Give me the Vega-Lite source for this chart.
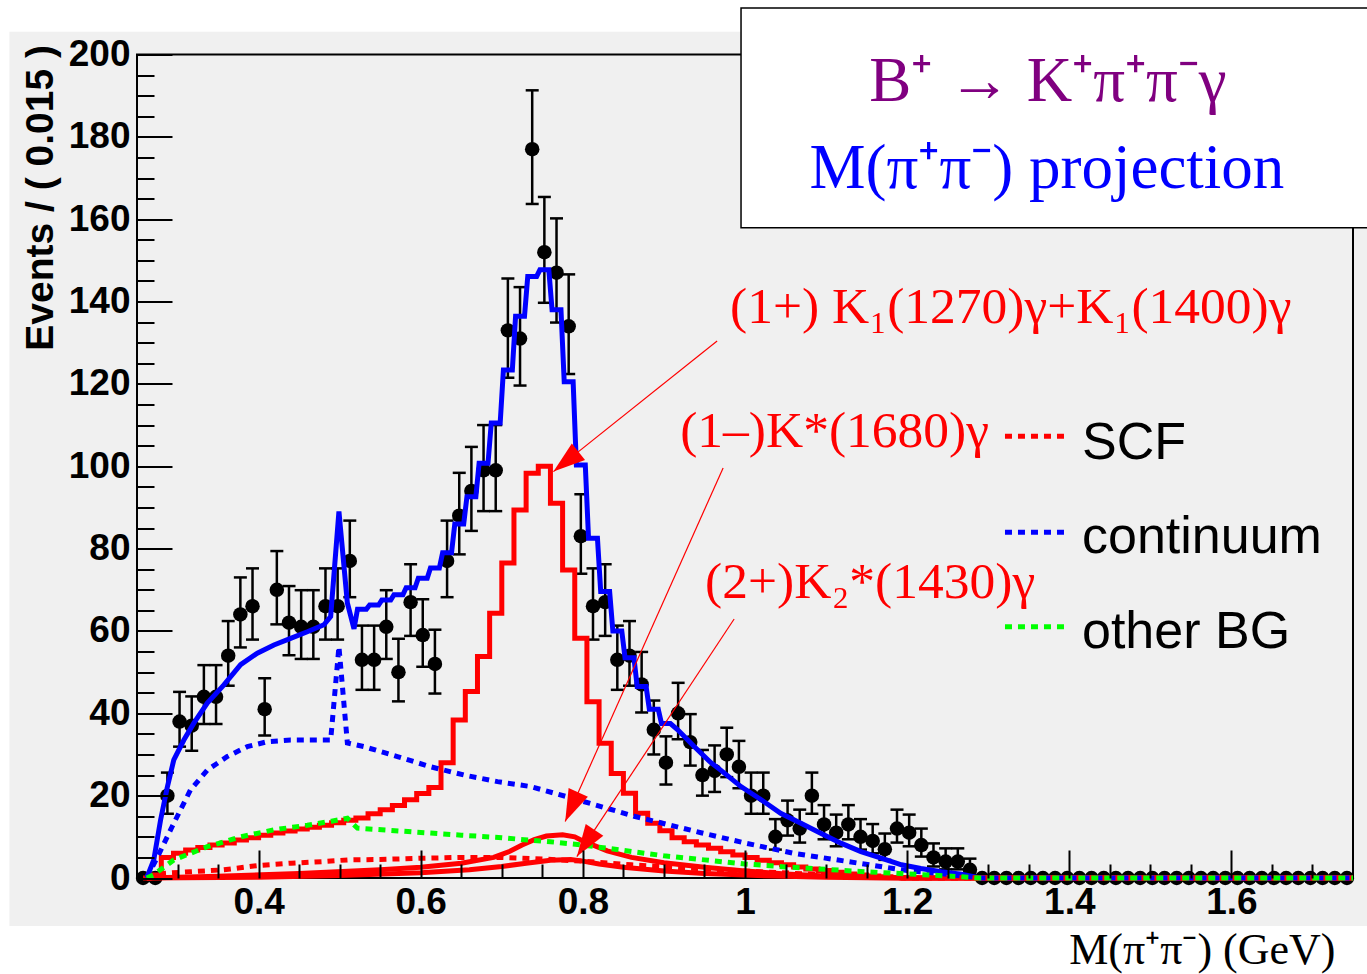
{
  "$schema": "https://vega.github.io/schema/vega-lite/v6.json",
  "width": 1216,
  "height": 823.5,
  "autosize": "none",
  "padding": {"left": 137, "top": 54.5, "right": 14, "bottom": 96},
  "background": "white",
  "config": {"view": {"stroke": null}, "axis": {"zindex": 1, "grid": false, "domain": false}},
  "resolve": {"axis": {"x": "independent", "y": "independent"}},
  "datasets": {
    "pts": [
      {"x":0.2575,"y":0,"lo":0,"hi":0},{"x":0.2725,"y":0,"lo":0,"hi":0},
      {"x":0.2875,"y":20,"lo":15.6,"hi":25.6},{"x":0.3025,"y":38,"lo":31.9,"hi":45.2},
      {"x":0.3175,"y":37,"lo":30.9,"hi":44.1},{"x":0.3325,"y":44,"lo":37.4,"hi":51.7},
      {"x":0.3475,"y":44,"lo":37.4,"hi":51.7},{"x":0.3625,"y":54,"lo":46.7,"hi":62.4},
      {"x":0.3775,"y":64,"lo":56.0,"hi":73.0},{"x":0.3925,"y":66,"lo":57.9,"hi":75.2},
      {"x":0.4075,"y":41,"lo":34.6,"hi":48.5},{"x":0.4225,"y":70,"lo":61.6,"hi":79.4},
      {"x":0.4375,"y":62,"lo":54.1,"hi":70.9},{"x":0.4525,"y":61,"lo":53.2,"hi":69.9},
      {"x":0.4675,"y":61,"lo":53.2,"hi":69.9},{"x":0.4825,"y":66,"lo":57.9,"hi":75.2},
      {"x":0.4975,"y":66,"lo":57.9,"hi":75.2},{"x":0.5125,"y":77,"lo":68.2,"hi":86.8},
      {"x":0.5275,"y":53,"lo":45.7,"hi":61.3},{"x":0.5425,"y":53,"lo":45.7,"hi":61.3},
      {"x":0.5575,"y":61,"lo":53.2,"hi":69.9},{"x":0.5725,"y":50,"lo":42.9,"hi":58.1},
      {"x":0.5875,"y":67,"lo":58.8,"hi":76.2},{"x":0.6025,"y":59,"lo":51.3,"hi":67.7},
      {"x":0.6175,"y":52,"lo":44.8,"hi":60.3},{"x":0.6325,"y":77,"lo":68.2,"hi":86.8},
      {"x":0.6475,"y":88,"lo":78.6,"hi":98.4},{"x":0.6625,"y":94,"lo":84.3,"hi":104.7},
      {"x":0.6775,"y":99,"lo":89.1,"hi":110.0},{"x":0.6925,"y":99,"lo":89.1,"hi":110.0},
      {"x":0.7075,"y":133,"lo":121.5,"hi":145.6},{"x":0.7225,"y":131,"lo":119.6,"hi":143.5},
      {"x":0.7375,"y":177,"lo":163.7,"hi":191.3},{"x":0.7525,"y":152,"lo":139.7,"hi":165.4},
      {"x":0.7675,"y":147,"lo":134.9,"hi":160.2},{"x":0.7825,"y":134,"lo":122.4,"hi":146.6},
      {"x":0.7975,"y":83,"lo":73.9,"hi":93.2},{"x":0.8125,"y":66,"lo":57.9,"hi":75.2},
      {"x":0.8275,"y":67,"lo":58.8,"hi":76.2},{"x":0.8425,"y":53,"lo":45.7,"hi":61.3},
      {"x":0.8575,"y":54,"lo":46.7,"hi":62.4},{"x":0.8725,"y":47,"lo":40.2,"hi":54.9},
      {"x":0.8875,"y":36,"lo":30.0,"hi":43.1},{"x":0.9025,"y":28,"lo":22.7,"hi":34.4},
      {"x":0.9175,"y":40,"lo":33.7,"hi":47.4},{"x":0.9325,"y":33,"lo":27.3,"hi":39.8},
      {"x":0.9475,"y":25,"lo":20.0,"hi":31.1},{"x":0.9625,"y":26,"lo":20.9,"hi":32.2},
      {"x":0.9775,"y":30,"lo":24.5,"hi":36.5},{"x":0.9925,"y":27,"lo":21.8,"hi":33.3},
      {"x":1.0075,"y":20,"lo":15.6,"hi":25.6},{"x":1.0225,"y":20,"lo":15.6,"hi":25.6},
      {"x":1.0375,"y":10,"lo":6.9,"hi":14.3},{"x":1.0525,"y":14,"lo":10.3,"hi":18.8},
      {"x":1.0675,"y":12,"lo":8.6,"hi":16.6},{"x":1.0825,"y":20,"lo":15.6,"hi":25.6},
      {"x":1.0975,"y":13,"lo":9.4,"hi":17.7},{"x":1.1125,"y":11,"lo":7.7,"hi":15.4},
      {"x":1.1275,"y":13,"lo":9.4,"hi":17.7},{"x":1.1425,"y":10,"lo":6.9,"hi":14.3},
      {"x":1.1575,"y":9,"lo":6.0,"hi":13.1},{"x":1.1725,"y":7,"lo":4.4,"hi":10.8},
      {"x":1.1875,"y":12,"lo":8.6,"hi":16.6},{"x":1.2025,"y":11,"lo":7.7,"hi":15.4},
      {"x":1.2175,"y":8,"lo":5.2,"hi":12.0},{"x":1.2325,"y":5,"lo":2.8,"hi":8.4},
      {"x":1.2475,"y":4,"lo":2.1,"hi":7.2},{"x":1.2625,"y":4,"lo":2.1,"hi":7.2},
      {"x":1.2775,"y":2,"lo":0.7,"hi":4.7},
      {"x":1.2925,"y":0,"lo":0,"hi":0},{"x":1.3075,"y":0,"lo":0,"hi":0},{"x":1.3225,"y":0,"lo":0,"hi":0},
      {"x":1.3375,"y":0,"lo":0,"hi":0},{"x":1.3525,"y":0,"lo":0,"hi":0},{"x":1.3675,"y":0,"lo":0,"hi":0},
      {"x":1.3825,"y":0,"lo":0,"hi":0},{"x":1.3975,"y":0,"lo":0,"hi":0},{"x":1.4125,"y":0,"lo":0,"hi":0},
      {"x":1.4275,"y":0,"lo":0,"hi":0},{"x":1.4425,"y":0,"lo":0,"hi":0},{"x":1.4575,"y":0,"lo":0,"hi":0},
      {"x":1.4725,"y":0,"lo":0,"hi":0},{"x":1.4875,"y":0,"lo":0,"hi":0},{"x":1.5025,"y":0,"lo":0,"hi":0},
      {"x":1.5175,"y":0,"lo":0,"hi":0},{"x":1.5325,"y":0,"lo":0,"hi":0},{"x":1.5475,"y":0,"lo":0,"hi":0},
      {"x":1.5625,"y":0,"lo":0,"hi":0},{"x":1.5775,"y":0,"lo":0,"hi":0},{"x":1.5925,"y":0,"lo":0,"hi":0},
      {"x":1.6075,"y":0,"lo":0,"hi":0},{"x":1.6225,"y":0,"lo":0,"hi":0},{"x":1.6375,"y":0,"lo":0,"hi":0},
      {"x":1.6525,"y":0,"lo":0,"hi":0},{"x":1.6675,"y":0,"lo":0,"hi":0},{"x":1.6825,"y":0,"lo":0,"hi":0},
      {"x":1.6975,"y":0,"lo":0,"hi":0},{"x":1.7125,"y":0,"lo":0,"hi":0},{"x":1.7275,"y":0,"lo":0,"hi":0},
      {"x":1.7425,"y":0,"lo":0,"hi":0}
    ],
    "tot": [
      {"x":0.262,"y":0},{"x":0.2707,"y":4.4},{"x":0.279,"y":14},{"x":0.2873,"y":22},{"x":0.2954,"y":28.7},
      {"x":0.3078,"y":33.5},{"x":0.3201,"y":37.6},{"x":0.3367,"y":42.5},{"x":0.3572,"y":46.9},{"x":0.3778,"y":51.8},
      {"x":0.3984,"y":54.6},{"x":0.4189,"y":56.6},{"x":0.4395,"y":58.2},{"x":0.4601,"y":59.8},{"x":0.4806,"y":61.5},
      {"x":0.4889,"y":63.5},{"x":0.4991,"y":89},{"x":0.5095,"y":66.8},{"x":0.5177,"y":60.5},
      {"x":0.522,"y":65.3},{"x":0.533,"y":65.3},{"x":0.537,"y":66.3},{"x":0.548,"y":66.3},
      {"x":0.552,"y":67.5},{"x":0.563,"y":67.5},{"x":0.567,"y":68.8},{"x":0.578,"y":68.8},
      {"x":0.582,"y":70.5},{"x":0.593,"y":70.5},{"x":0.597,"y":72.8},{"x":0.608,"y":72.8},
      {"x":0.612,"y":75.3},{"x":0.623,"y":75.3},{"x":0.627,"y":79},{"x":0.638,"y":79},
      {"x":0.642,"y":86},{"x":0.653,"y":86},{"x":0.657,"y":92.6},{"x":0.668,"y":92.6},
      {"x":0.672,"y":100.7},{"x":0.683,"y":100.7},{"x":0.687,"y":110.5},{"x":0.698,"y":110.5},
      {"x":0.702,"y":123.4},{"x":0.713,"y":123.4},{"x":0.717,"y":136.4},{"x":0.728,"y":136.4},
      {"x":0.732,"y":146.1},{"x":0.743,"y":146.1},{"x":0.747,"y":147.7},{"x":0.758,"y":147.7},
      {"x":0.762,"y":138},{"x":0.773,"y":138},{"x":0.777,"y":120.5},{"x":0.788,"y":120.5},
      {"x":0.792,"y":100.3},{"x":0.803,"y":100.3},{"x":0.807,"y":82.5},{"x":0.818,"y":82.5},
      {"x":0.822,"y":69.6},{"x":0.833,"y":69.6},{"x":0.837,"y":60},{"x":0.848,"y":60},
      {"x":0.852,"y":53.5},{"x":0.863,"y":53.5},{"x":0.867,"y":46.5},{"x":0.878,"y":46.5},
      {"x":0.882,"y":41},{"x":0.893,"y":41},{"x":0.897,"y":37.5},{"x":0.908,"y":37.5},
      {"x":0.917,"y":36},{"x":0.937,"y":32},{"x":0.958,"y":28},{"x":0.97,"y":26.2},{"x":0.995,"y":22.2},
      {"x":1.02,"y":19},{"x":1.044,"y":15.7},{"x":1.069,"y":13.3},{"x":1.094,"y":10.8},{"x":1.119,"y":8.4},
      {"x":1.143,"y":6.4},{"x":1.168,"y":4.8},{"x":1.193,"y":3.2},{"x":1.217,"y":2.3},{"x":1.242,"y":1.5},
      {"x":1.267,"y":0.9},{"x":1.29,"y":0},{"x":1.75,"y":0}
    ],
    "k1": [
      {"x":0.2575,"y":0},{"x":0.2725,"y":0.7},{"x":0.2875,"y":5.0},{"x":0.3025,"y":6.0},{"x":0.3175,"y":6.8},
      {"x":0.3325,"y":7.4},{"x":0.3475,"y":8.0},{"x":0.3625,"y":8.5},{"x":0.3775,"y":9.2},{"x":0.3925,"y":9.8},
      {"x":0.4075,"y":10.4},{"x":0.4225,"y":10.9},{"x":0.4375,"y":11.4},{"x":0.4525,"y":11.9},{"x":0.4675,"y":12.3},
      {"x":0.4825,"y":12.8},{"x":0.4975,"y":13.4},{"x":0.5125,"y":14.0},{"x":0.5275,"y":14.6},{"x":0.5425,"y":15.6},
      {"x":0.5575,"y":16.6},{"x":0.5725,"y":17.6},{"x":0.5875,"y":19.0},{"x":0.6025,"y":20.5},{"x":0.6175,"y":22.0},
      {"x":0.6325,"y":28.0},{"x":0.6475,"y":38.4},{"x":0.6625,"y":45.3},{"x":0.6775,"y":53.8},{"x":0.6925,"y":64.3},
      {"x":0.7075,"y":76.5},{"x":0.7225,"y":89.4},{"x":0.7375,"y":98.3},{"x":0.7525,"y":100},{"x":0.7675,"y":91},
      {"x":0.7825,"y":74.8},{"x":0.7975,"y":58.2},{"x":0.8125,"y":42.8},{"x":0.8275,"y":32.7},{"x":0.8425,"y":25.4},
      {"x":0.8575,"y":20.6},{"x":0.8725,"y":15.7},{"x":0.8875,"y":13.3},{"x":0.9025,"y":11.5},{"x":0.9175,"y":9.8},
      {"x":0.9325,"y":8.8},{"x":0.9475,"y":8.0},{"x":0.9625,"y":7.2},{"x":0.9775,"y":6.4},{"x":0.9925,"y":5.6},
      {"x":1.0075,"y":5.0},{"x":1.0225,"y":4.3},{"x":1.0375,"y":3.7},{"x":1.0525,"y":3.2},{"x":1.0675,"y":2.7},
      {"x":1.0825,"y":2.2},{"x":1.0975,"y":1.8},{"x":1.1125,"y":1.4},{"x":1.1275,"y":1.0},{"x":1.1425,"y":0.7},
      {"x":1.1575,"y":0.5},{"x":1.1725,"y":0.3},{"x":1.1875,"y":0.1},{"x":1.2025,"y":0},{"x":1.7425,"y":0}
    ],
    "ks": [
      {"x":0.262,"y":0},{"x":0.35,"y":0.4},{"x":0.45,"y":1.1},{"x":0.55,"y":2.0},{"x":0.6,"y":2.6},
      {"x":0.65,"y":3.6},{"x":0.69,"y":5.0},{"x":0.71,"y":6.5},{"x":0.725,"y":8.0},{"x":0.74,"y":9.3},
      {"x":0.755,"y":10.2},{"x":0.775,"y":10.5},{"x":0.79,"y":10.0},{"x":0.8,"y":9.0},{"x":0.815,"y":7.8},
      {"x":0.83,"y":6.6},{"x":0.86,"y":5.0},{"x":0.9,"y":3.7},{"x":0.95,"y":2.6},{"x":1.0,"y":1.7},
      {"x":1.05,"y":1.0},{"x":1.1,"y":0.5},{"x":1.15,"y":0.15},{"x":1.2,"y":0},{"x":1.75,"y":0}
    ],
    "k2": [
      {"x":0.262,"y":0},{"x":0.4,"y":0.2},{"x":0.5,"y":0.6},{"x":0.6,"y":1.3},{"x":0.66,"y":2.0},
      {"x":0.7,"y":2.8},{"x":0.73,"y":3.6},{"x":0.76,"y":4.3},{"x":0.785,"y":4.5},{"x":0.8,"y":4.1},
      {"x":0.82,"y":3.4},{"x":0.85,"y":2.6},{"x":0.9,"y":1.7},{"x":0.95,"y":1.1},{"x":1.0,"y":0.7},
      {"x":1.05,"y":0.4},{"x":1.1,"y":0.2},{"x":1.15,"y":0.05},{"x":1.2,"y":0},{"x":1.75,"y":0}
    ],
    "scf": [
      {"x":0.262,"y":0},{"x":0.279,"y":1.1},{"x":0.3152,"y":1.5},{"x":0.3572,"y":2.0},{"x":0.3984,"y":3.0},
      {"x":0.44,"y":3.6},{"x":0.48,"y":4.0},{"x":0.51,"y":4.4},{"x":0.55,"y":4.5},{"x":0.6,"y":4.8},
      {"x":0.65,"y":5.0},{"x":0.7,"y":5.0},{"x":0.75,"y":4.6},{"x":0.8,"y":4.1},{"x":0.86,"y":3.2},
      {"x":0.95,"y":2.2},{"x":1.03,"y":1.4},{"x":1.11,"y":0.7},{"x":1.17,"y":0.2},{"x":1.2,"y":0},{"x":1.75,"y":0}
    ],
    "cont": [
      {"x":0.262,"y":0},{"x":0.275,"y":5},{"x":0.2934,"y":12.5},{"x":0.316,"y":21.4},{"x":0.3367,"y":26.2},
      {"x":0.3614,"y":29.5},{"x":0.386,"y":31.9},{"x":0.4107,"y":33.1},{"x":0.4395,"y":33.5},{"x":0.4683,"y":33.5},
      {"x":0.4889,"y":33.5},{"x":0.4991,"y":56.2},{"x":0.5095,"y":32.8},{"x":0.53,"y":31.9},{"x":0.5712,"y":29.5},
      {"x":0.6123,"y":27.0},{"x":0.6535,"y":25.0},{"x":0.6947,"y":23.4},{"x":0.7358,"y":22.2},{"x":0.7811,"y":19.7},
      {"x":0.8633,"y":15},{"x":0.9457,"y":11},{"x":1.0,"y":8.5},{"x":1.06,"y":6},{"x":1.11,"y":4.5},
      {"x":1.16,"y":3},{"x":1.2,"y":1.8},{"x":1.25,"y":0.9},{"x":1.29,"y":0},{"x":1.75,"y":0}
    ],
    "obg": [
      {"x":0.262,"y":0},{"x":0.27,"y":0.7},{"x":0.2954,"y":4.4},{"x":0.3367,"y":7.6},{"x":0.3778,"y":10.0},
      {"x":0.4189,"y":11.7},{"x":0.4601,"y":12.8},{"x":0.49,"y":13.8},{"x":0.5095,"y":14.5},{"x":0.5219,"y":12.1},
      {"x":0.56,"y":11.6},{"x":0.6123,"y":10.9},{"x":0.65,"y":10.4},{"x":0.7,"y":9.8},{"x":0.7275,"y":9.3},
      {"x":0.76,"y":8.8},{"x":0.8,"y":8.0},{"x":0.85,"y":6.7},{"x":0.9,"y":5.4},{"x":0.95,"y":4.4},
      {"x":1.0,"y":3.4},{"x":1.05,"y":2.7},{"x":1.1,"y":2.1},{"x":1.15,"y":1.5},{"x":1.2,"y":1.0},
      {"x":1.25,"y":0.5},{"x":1.29,"y":0},{"x":1.75,"y":0}
    ],
    "arrows": [
      {"x":0.9656,"y":130.4,"x2":0.7637,"y2":98.7,"ang":231.4},
      {"x":0.973,"y":99.6,"x2":0.7782,"y2":13.7,"ang":204.1},
      {"x":0.9866,"y":62.9,"x2":0.7926,"y2":5.2,"ang":213.5}
    ],
    "ann": [
      {"x":0.9816,"y":134.8,"label":"(1+) K₁(1270)γ+K₁(1400)γ"},
      {"x":0.92,"y":104.7,"label":"(1–)K*(1680)γ"},
      {"x":0.9508,"y":68.0,"label":"(2+)K₂*(1430)γ"}
    ],
    "legl": [
      {"x":1.3207,"x2":1.3983,"y":107.3,"s":"SCF"},
      {"x":1.3207,"x2":1.3983,"y":84.0,"s":"continuum"},
      {"x":1.3207,"x2":1.3983,"y":61.0,"s":"other BG"}
    ],
    "legt": [
      {"x":1.4157,"y":101.8,"label":"SCF"},
      {"x":1.4157,"y":78.9,"label":"continuum"},
      {"x":1.4157,"y":55.9,"label":"other BG"}
    ]
  },
  "encoding": {
    "x": {"field": "x", "type": "quantitative", "scale": {"domain": [0.25, 1.75], "nice": false, "zero": false}, "axis": null},
    "y": {"field": "y", "type": "quantitative", "scale": {"domain": [0, 200], "nice": false, "zero": false}, "axis": null}
  },
  "layer": [
    {
      "data": {"values": [{"x": 0.0926, "x2": 1.8, "y": -11.66, "y2": 205.5}]},
      "mark": {"type": "rect", "color": "#f0f0f0"},
      "encoding": {
        "x": {"field": "x", "type": "quantitative", "scale": {"domain": [0.25, 1.75], "nice": false, "zero": false},
          "axis": {"orient": "bottom", "zindex": 2, "values": [0.4, 0.6, 0.8, 1, 1.2, 1.4, 1.6], "format": "~g", "ticks": false, "domain": false, "grid": false,
            "labelPadding": 6, "labelFont": "Liberation Sans", "labelFontWeight": "bold", "labelFontSize": 37, "labelColor": "black",
            "labelFlush": false, "labelOverlap": false, "labelBound": false,
            "title": "M(π⁺π⁻) (GeV)", "titleFont": "Liberation Serif", "titleFontSize": 44, "titleFontWeight": "normal", "titleColor": "black",
            "titleAnchor": "end", "titleAlign": "right", "titleBaseline": "alphabetic", "titleX": 1198, "titleY": 85}},
        "x2": {"field": "x2"},
        "y": {"field": "y", "type": "quantitative", "scale": {"domain": [0, 200], "nice": false, "zero": false},
          "axis": {"orient": "left", "zindex": 2, "values": [0, 20, 40, 60, 80, 100, 120, 140, 160, 180, 200], "ticks": false, "domain": false, "grid": false,
            "labelPadding": 7, "labelFont": "Liberation Sans", "labelFontWeight": "bold", "labelFontSize": 37, "labelColor": "black",
            "labelFlush": false, "labelOverlap": false, "labelBound": false,
            "title": "Events / ( 0.015 )", "titleFont": "Liberation Sans", "titleFontSize": 39, "titleFontWeight": "bold", "titleColor": "black",
            "titleAnchor": "end", "titleAlign": "right", "titleBaseline": "middle", "titleAngle": -90, "titleX": -97, "titleY": -10}},
        "y2": {"field": "y2"}
      }
    },
    {
      "data": {"values": [{"x": 0.25, "x2": 1.75, "y": 0, "y2": 200}]},
      "mark": {"type": "rect", "fillOpacity": 0, "stroke": "black", "strokeWidth": 2},
      "encoding": {
        "x": {"field": "x", "type": "quantitative", "scale": {"domain": [0.25, 1.75], "nice": false, "zero": false},
          "axis": {"orient": "bottom", "zindex": 2, "values": [0.4, 0.6, 0.8, 1, 1.2, 1.4, 1.6], "labels": false, "ticks": true, "tickSize": -28, "tickWidth": 2, "tickColor": "black", "domain": false, "grid": false, "title": null}},
        "x2": {"field": "x2"},
        "y": {"field": "y", "type": "quantitative", "scale": {"domain": [0, 200], "nice": false, "zero": false},
          "axis": {"orient": "left", "zindex": 2, "values": [0, 20, 40, 60, 80, 100, 120, 140, 160, 180, 200], "labels": false, "ticks": true, "tickSize": -35, "tickWidth": 2, "tickColor": "black", "domain": false, "grid": false, "title": null}},
        "y2": {"field": "y2"}
      }
    },
    {
      "data": {"name": "pts"},
      "transform": [{"filter": "datum.y > 0"}],
      "mark": {"type": "rule", "color": "black", "strokeWidth": 2.5},
      "encoding": {
        "y": {"field": "lo", "type": "quantitative", "scale": {"domain": [0, 200], "nice": false, "zero": false}, "axis": null},
        "y2": {"field": "hi"}
      }
    },
    {
      "data": {"name": "pts"},
      "transform": [{"filter": "datum.y > 0"}],
      "mark": {"type": "tick", "orient": "horizontal", "size": 13, "thickness": 2.5, "color": "black", "opacity": 1},
      "encoding": {
        "y": {"field": "hi", "type": "quantitative", "scale": {"domain": [0, 200], "nice": false, "zero": false}, "axis": null}
      }
    },
    {
      "data": {"name": "pts"},
      "transform": [{"filter": "datum.y > 0"}],
      "mark": {"type": "tick", "orient": "horizontal", "size": 13, "thickness": 2.5, "color": "black", "opacity": 1},
      "encoding": {
        "y": {"field": "lo", "type": "quantitative", "scale": {"domain": [0, 200], "nice": false, "zero": false}, "axis": null}
      }
    },
    {
      "data": {"name": "pts"},
      "mark": {"type": "point", "filled": true, "size": 210, "color": "black", "opacity": 1, "strokeWidth": 0},
      "encoding": {
        "x": {"field": "x", "type": "quantitative", "scale": {"domain": [0.25, 1.75], "nice": false, "zero": false},
          "axis": {"orient": "bottom", "zindex": 2, "values": [0.3, 0.35, 0.45, 0.5, 0.55, 0.65, 0.7, 0.75, 0.85, 0.9, 0.95, 1.05, 1.1, 1.15, 1.25, 1.3, 1.35, 1.45, 1.5, 1.55, 1.65, 1.7], "labels": false, "ticks": true, "tickSize": -14, "tickWidth": 2, "tickColor": "black", "domain": false, "grid": false, "title": null}},
        "y": {"field": "y", "type": "quantitative", "scale": {"domain": [0, 200], "nice": false, "zero": false},
          "axis": {"orient": "left", "zindex": 2, "values": [5, 10, 15, 25, 30, 35, 45, 50, 55, 65, 70, 75, 85, 90, 95, 105, 110, 115, 125, 130, 135, 145, 150, 155, 165, 170, 175, 185, 190, 195], "labels": false, "ticks": true, "tickSize": -17, "tickWidth": 2, "tickColor": "black", "domain": false, "grid": false, "title": null}}
      }
    },
    {"data": {"name": "tot"}, "mark": {"type": "line", "color": "#0000ff", "strokeWidth": 5}, "encoding": {}},
    {"data": {"name": "k1"}, "mark": {"type": "line", "color": "#ff0000", "strokeWidth": 5, "interpolate": "step"}, "encoding": {}},
    {"data": {"name": "ks"}, "mark": {"type": "line", "color": "#ff0000", "strokeWidth": 5}, "encoding": {}},
    {"data": {"name": "k2"}, "mark": {"type": "line", "color": "#ff0000", "strokeWidth": 5}, "encoding": {}},
    {"data": {"name": "scf"}, "mark": {"type": "line", "color": "#ff0000", "strokeWidth": 5, "strokeDash": [7, 6]}, "encoding": {}},
    {"data": {"name": "cont"}, "mark": {"type": "line", "color": "#0000ff", "strokeWidth": 5, "strokeDash": [7, 6]}, "encoding": {}},
    {"data": {"name": "obg"}, "mark": {"type": "line", "color": "#00ff00", "strokeWidth": 5, "strokeDash": [7, 6]}, "encoding": {}},
    {
      "data": {"name": "arrows"},
      "mark": {"type": "rule", "color": "#ff0000", "strokeWidth": 1.2},
      "encoding": {"x2": {"field": "x2"}, "y2": {"field": "y2"}}
    },
    {
      "data": {"name": "arrows"},
      "mark": {"type": "point", "shape": "M0,0L-0.33,1L0.33,1Z", "filled": true, "size": 4096, "color": "#ff0000", "opacity": 1, "strokeWidth": 0},
      "encoding": {
        "x": {"field": "x2", "type": "quantitative", "scale": {"domain": [0.25, 1.75], "nice": false, "zero": false}, "axis": null},
        "y": {"field": "y2", "type": "quantitative", "scale": {"domain": [0, 200], "nice": false, "zero": false}, "axis": null},
        "angle": {"field": "ang", "type": "quantitative", "scale": null}
      }
    },
    {
      "data": {"name": "ann"},
      "mark": {"type": "text", "font": "Liberation Serif", "fontSize": 51.5, "color": "#ff0000", "align": "left", "baseline": "alphabetic"},
      "encoding": {"text": {"field": "label"}}
    },
    {
      "data": {"name": "legl"},
      "mark": {"type": "rule", "strokeWidth": 5, "strokeDash": [7, 6]},
      "encoding": {
        "x2": {"field": "x2"},
        "color": {"field": "s", "type": "nominal", "scale": {"domain": ["SCF", "continuum", "other BG"], "range": ["#ff0000", "#0000ff", "#00ff00"]}, "legend": null}
      }
    },
    {
      "data": {"name": "legt"},
      "mark": {"type": "text", "font": "Liberation Sans", "fontSize": 52, "color": "black", "align": "left", "baseline": "alphabetic"},
      "encoding": {"text": {"field": "label"}}
    },
    {
      "data": {"values": [{"x": 0.9951, "x2": 1.8, "y": 157.9, "y2": 211.3}]},
      "mark": {"type": "rect", "fill": "white", "stroke": "black", "strokeWidth": 1.5},
      "encoding": {"x2": {"field": "x2"}, "y2": {"field": "y2"}}
    },
    {
      "data": {"values": [{"x": 1.3737, "y": 188.7, "label": "B⁺ → K⁺π⁺π⁻γ"}]},
      "mark": {"type": "text", "font": "Liberation Serif", "fontSize": 63, "color": "#800080", "align": "center", "baseline": "alphabetic"},
      "encoding": {"text": {"field": "label"}}
    },
    {
      "data": {"values": [{"x": 1.3725, "y": 167.6, "label": "M(π⁺π⁻) projection"}]},
      "mark": {"type": "text", "font": "Liberation Serif", "fontSize": 63, "color": "#0000ff", "align": "center", "baseline": "alphabetic"},
      "encoding": {"text": {"field": "label"}}
    }
  ]
}
